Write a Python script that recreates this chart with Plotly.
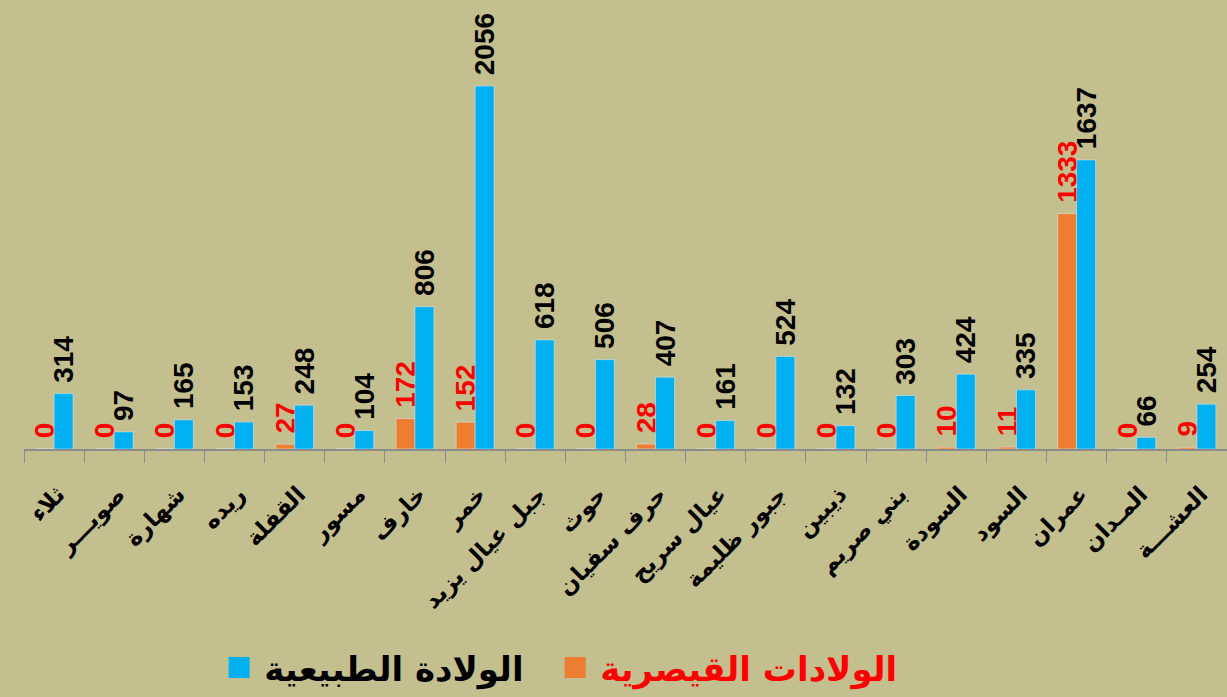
import plotly.graph_objects as go

categories = ["ثلاء", "صويـــر", "شهارة", "ريده", "القفلة", "مسور", "خارف", "خمر",
              "جبل عيال يزيد", "حوث", "حرف سفيان", "عيال سريح", "جبور ظليمة",
              "ذيبين", "بني صريم", "السودة", "السود", "عمران", "المـدان", "العشـــة"]
caesarean = [0, 0, 0, 0, 27, 0, 172, 152, 0, 0, 28, 0, 0, 0, 0, 10, 11, 1333, 0, 9]
natural = [314, 97, 165, 153, 248, 104, 806, 2056, 618, 506, 407, 161, 524, 132, 303, 424, 335, 1637, 66, 254]
name_caesarean = "الولادات القيصرية"
name_natural = "الولادة الطبيعية"

BG = "#C3BF8E"
ORANGE = "#ED7D31"
BLUE = "#00B0F0"
fig = go.Figure()
fig.add_trace(go.Bar(
    x=categories, y=caesarean, name=name_caesarean, showlegend=False,
    marker=dict(color=ORANGE), texttemplate="\u00a0%{y}", textposition="outside", textangle=-90,
    textfont=dict(color="#FF0000", size=28, family="Liberation Sans", weight="bold"), cliponaxis=False,
    constraintext="none",
))
fig.add_trace(go.Bar(
    x=categories, y=natural, name=name_natural, showlegend=False,
    marker=dict(color=BLUE), texttemplate="\u00a0%{y}", textposition="outside", textangle=-90,
    textfont=dict(color="#000000", size=28, family="Liberation Sans", weight="bold"), cliponaxis=False,
    constraintext="none",
))
# legend entries (larger square swatches)
fig.add_trace(go.Scatter(
    x=[None], y=[None], mode="markers", name="<b>" + name_natural + "</b>\u00a0\u00a0",
    marker=dict(symbol="square", size=16, color=BLUE, line=dict(color=BLUE, width=5)),
))
fig.add_trace(go.Scatter(
    x=[None], y=[None], mode="markers",
    name="<b><span style='color:#FF0000'>" + name_caesarean + "</span></b>",
    marker=dict(symbol="square", size=16, color=ORANGE, line=dict(color=ORANGE, width=5)),
))
fig.update_layout(
    width=1227, height=697,
    paper_bgcolor=BG, plot_bgcolor=BG,
    margin=dict(l=24, r=0, t=0, b=248),
    barmode="group", bargap=0.37, bargroupgap=0,
    showlegend=True,
    legend=dict(orientation="h", x=0.444, xanchor="center", y=-0.488, yanchor="middle",
                itemsizing="trace", font=dict(size=34, family="DejaVu Sans", color="#000000"),
                bgcolor="rgba(0,0,0,0)", itemwidth=40),
    font=dict(family="DejaVu Sans"),
)
fig.update_xaxes(
    showline=True, linecolor="#8C8C8C", linewidth=1.5,
    ticks="outside", tickson="boundaries", ticklen=12, tickcolor="#8C8C8C",
    tickangle=-45, tickfont=dict(size=23, color="#000000", family="DejaVu Sans", weight="bold"),
    ticklabelstandoff=21, ticklabelshift=4,
    showgrid=False,
)
fig.update_yaxes(visible=False, range=[0, 2543], showgrid=False)
fig.write_html("out.html", config={"displayModeBar": False},
               post_script="document.body.style.margin='0px';document.body.style.background='" + BG + "';")
